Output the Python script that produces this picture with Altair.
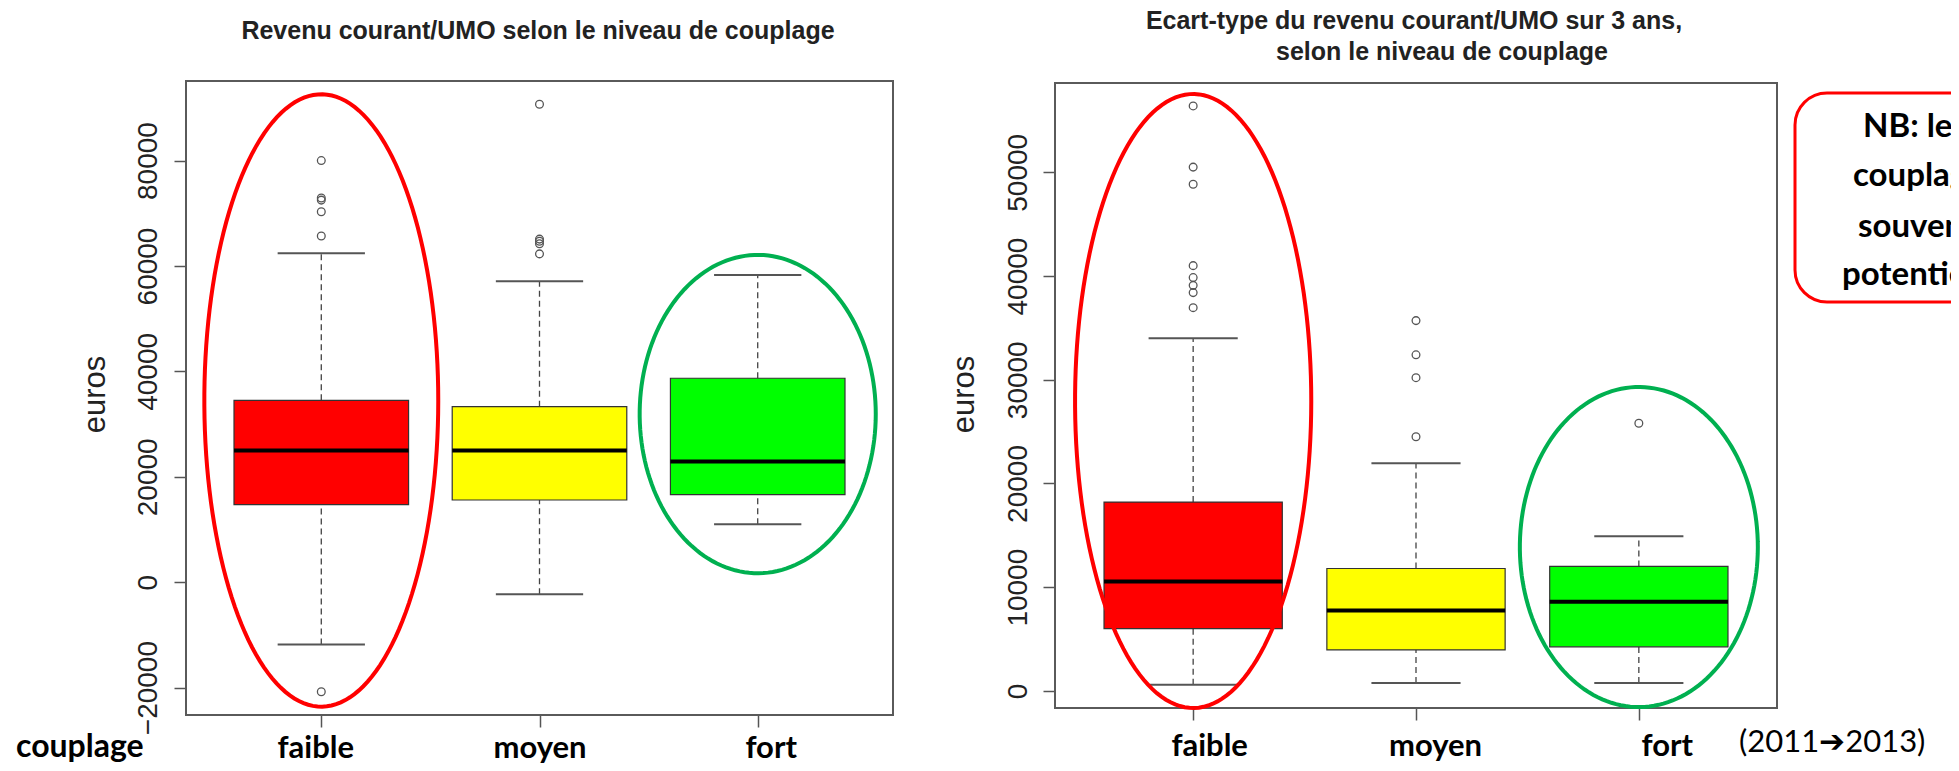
import altair as alt
import pandas as pd

# ---------------- data ----------------
categories = ["faible", "moyen", "fort"]
positions = [1, 2, 3]
box_fill = ["#ff0000", "#ffff00", "#00ff00"]

# Panel 1 : Revenu courant/UMO
rev_q1 = [14700, 15600, 16600]
rev_med = [25000, 25000, 22900]
rev_q3 = [34500, 33300, 38700]
rev_lo = [-11800, -2300, 11000]
rev_hi = [62400, 57100, 58300]
rev_out_faible = [80000, 72900, 72500, 70300, 65700, -20800]
rev_out_moyen = [90700, 65100, 64700, 64200, 62300]
rev_out_fort = []
rev_ticks = [-20000, 0, 20000, 40000, 60000, 80000]
rev_ydomain = [-25200, 95100]

# Panel 2 : Ecart-type du revenu courant/UMO sur 3 ans
sd_q1 = [6000, 3950, 4250]
sd_med = [10550, 7750, 8600]
sd_q3 = [18200, 11800, 12000]
sd_lo = [600, 750, 750]
sd_hi = [34000, 21950, 14900]
sd_out_faible = [56400, 50500, 48850, 41000, 39850, 39100, 38400, 36950]
sd_out_moyen = [35700, 32400, 30200, 24500]
sd_out_fort = [25800]
sd_ticks = [0, 10000, 20000, 30000, 40000, 50000]
sd_ydomain = [-1650, 58610]

x_domain = [0.38, 3.62]

# highlight ellipses (centre / half-axes in data units)
ell_id = ["rouge", "vert"]
ell_color = ["#ff0000", "#00b050"]
ell_cx = [1, 3]
rev_ell_cy = [34480, 31900]
rev_ell_rx = [0.536, 0.541]
rev_ell_ry = [58100, 30200]
sd_ell_cy = [27950, 13870]
sd_ell_rx = [0.53, 0.534]
sd_ell_ry = [29600, 15430]

title_left = "Revenu courant/UMO selon le niveau de couplage"
title_right = ["Ecart-type du revenu courant/UMO sur 3 ans,", "selon le niveau de couplage"]
nb_lines = ["NB: les", "couplage", "souvent", "potentiel"]

AXIS_FONT = "Liberation Sans"
LABEL_FONT = "Lato"


def label_expr():
    parts = " : ".join(
        f"datum.value == {p} ? '{c}'" for p, c in zip(positions[:-1], categories[:-1])
    )
    return f"{parts} : '{categories[-1]}'"


def panel(q1, med, q3, lo, hi, outs, ticks, ydom, xrange, yrange,
          ell_cy, ell_rx, ell_ry, y_offset, x_offset, lab_pad, lab_offsets, ylab_pad):
    xs = alt.Scale(domain=x_domain, range=xrange, nice=False, zero=False)
    ys = alt.Scale(domain=ydom, range=yrange, nice=False, zero=False)
    cond = [
        {"test": f"datum.value == {p}", "value": o}
        for p, o in zip(positions, lab_offsets)
    ]
    xaxis = alt.Axis(
        values=positions, labelExpr=label_expr(), title=None, orient="bottom",
        offset=x_offset, domain=False, grid=False, tickSize=12, tickColor="#555",
        tickWidth=1.5, labelFont=LABEL_FONT, labelFontWeight="bold", labelFontSize=31,
        labelColor="black", labelBaseline="alphabetic", labelPadding=lab_pad,
        labelOffset={"condition": cond, "value": 0},
        labelFlush=False, labelOverlap=False,
    )
    yaxis = alt.Axis(
        values=ticks, format="d", orient="left", offset=y_offset, title="euros",
        titleFont=AXIS_FONT, titleFontSize=31, titleFontWeight="normal",
        titleColor="#222", titleAngle=270, titleX=-91, titleY=313,
        titleAlign="center", titleBaseline="middle", domain=False, grid=False,
        tickSize=12, tickColor="#555", tickWidth=1.5, labelAngle=270,
        labelAlign="center", labelBaseline="bottom", labelFont=AXIS_FONT,
        labelFontSize=28, labelColor="#222", labelPadding=ylab_pad,
        labelOverlap=False, labelFlush=False,
    )

    stats = pd.DataFrame({
        "cat": categories, "pos": positions, "q1": q1, "med": med, "q3": q3,
        "lo": lo, "hi": hi, "fill": box_fill,
    })
    base = alt.Chart(stats).transform_calculate(
        xl="datum.pos - 0.4", xr="datum.pos + 0.4",
        cl="datum.pos - 0.2", cr="datum.pos + 0.2",
    )

    frame = alt.Chart(pd.DataFrame({
        "x": [x_domain[0]], "x2": [x_domain[1]], "y": [ydom[0]], "y2": [ydom[1]],
    })).mark_rect(fill="white", fillOpacity=0, stroke="#5a5a5a", strokeWidth=2).encode(
        x=alt.X("x:Q", scale=xs, axis=xaxis), x2="x2:Q",
        y=alt.Y("y:Q", scale=ys, axis=yaxis), y2="y2:Q",
    )

    whisk_style = dict(color="#444", strokeWidth=1.3, strokeDash=[6, 4])
    whisk_up = base.mark_rule(**whisk_style).encode(
        x=alt.X("pos:Q", scale=xs, axis=xaxis),
        y=alt.Y("q3:Q", scale=ys, axis=yaxis), y2="hi:Q",
    )
    whisk_dn = base.mark_rule(**whisk_style).encode(
        x=alt.X("pos:Q", scale=xs, axis=xaxis),
        y=alt.Y("lo:Q", scale=ys, axis=yaxis), y2="q1:Q",
    )
    cap_hi = base.mark_rule(color="#555", strokeWidth=2).encode(
        x=alt.X("cl:Q", scale=xs, axis=xaxis), x2="cr:Q",
        y=alt.Y("hi:Q", scale=ys, axis=yaxis),
    )
    cap_lo = base.mark_rule(color="#555", strokeWidth=2).encode(
        x=alt.X("cl:Q", scale=xs, axis=xaxis), x2="cr:Q",
        y=alt.Y("lo:Q", scale=ys, axis=yaxis),
    )
    boxes = base.mark_rect(stroke="#333", strokeWidth=1.2).encode(
        x=alt.X("xl:Q", scale=xs, axis=xaxis), x2="xr:Q",
        y=alt.Y("q1:Q", scale=ys, axis=yaxis), y2="q3:Q",
        fill=alt.Fill("fill:N", scale=None),
    )
    medians = base.mark_rule(color="black", strokeWidth=4).encode(
        x=alt.X("xl:Q", scale=xs, axis=xaxis), x2="xr:Q",
        y=alt.Y("med:Q", scale=ys, axis=yaxis),
    )
    out_rows = [(p, v) for p, vals in zip(positions, outs) for v in vals]
    out_df = pd.DataFrame(out_rows, columns=["pos", "val"])
    outliers = alt.Chart(out_df).mark_point(
        shape="circle", filled=False, size=60, color="#555", strokeWidth=1.3, opacity=1
    ).encode(
        x=alt.X("pos:Q", scale=xs, axis=xaxis),
        y=alt.Y("val:Q", scale=ys, axis=yaxis),
    )
    ell_df = pd.DataFrame({
        "id": ell_id, "col": ell_color, "cx": ell_cx, "cy": ell_cy,
        "rx": ell_rx, "ry": ell_ry,
    })
    ellipses = alt.Chart(ell_df).transform_calculate(
        t="sequence(0, 6.36, 0.04)"
    ).transform_flatten(["t"]).transform_calculate(
        ex="datum.cx + datum.rx * cos(datum.t)",
        ey="datum.cy + datum.ry * sin(datum.t)",
    ).mark_line(strokeWidth=4).encode(
        x=alt.X("ex:Q", scale=xs, axis=xaxis),
        y=alt.Y("ey:Q", scale=ys, axis=yaxis),
        color=alt.Color("col:N", scale=None),
        detail="id:N",
        order="t:Q",
    )
    return alt.layer(frame, whisk_up, whisk_dn, cap_hi, cap_lo, boxes, medians,
                     outliers, ellipses)


p1 = panel(rev_q1, rev_med, rev_q3, rev_lo, rev_hi,
           [rev_out_faible, rev_out_moyen, rev_out_fort], rev_ticks, rev_ydomain,
           [0, 707], [634, 0], rev_ell_cy, rev_ell_rx, rev_ell_ry,
           y_offset=0, x_offset=0, lab_pad=30, lab_offsets=[-6, 0, 13], ylab_pad=12)
p2 = panel(sd_q1, sd_med, sd_q3, sd_lo, sd_hi,
           [sd_out_faible, sd_out_moyen, sd_out_fort], sd_ticks, sd_ydomain,
           [869, 1591], [627, 2], sd_ell_cy, sd_ell_rx, sd_ell_ry,
           y_offset=-869, x_offset=-7, lab_pad=35, lab_offsets=[16, 19, 28], ylab_pad=11)


def text_layer(txt, x, y, font, size, weight="normal", align="center", color="black"):
    return alt.Chart(pd.DataFrame({"t": [txt]})).mark_text(
        font=font, fontSize=size, fontWeight=weight, align=align,
        baseline="alphabetic", color=color,
    ).encode(text="t:N", x=alt.value(x), y=alt.value(y))


titles = [
    text_layer(title_left, 352, -42, AXIS_FONT, 25, "bold", color="#222"),
    text_layer(title_right[0], 1228, -52, AXIS_FONT, 25, "bold", color="#222"),
    text_layer(title_right[1], 1256, -21, AXIS_FONT, 25, "bold", color="#222"),
    text_layer("couplage", -170, 676, LABEL_FONT, 32, "bold", align="left"),
    text_layer("(2011\u27942013)", 1553, 671, LABEL_FONT, 31, "normal", align="left"),
]

nb_box = alt.Chart(pd.DataFrame({"k": [0]})).mark_rect(
    fill="white", stroke="#ff0000", strokeWidth=3, cornerRadius=32
).encode(x=alt.value(1609), x2=alt.value(1820), y=alt.value(12), y2=alt.value(221))

nb_x = [1677, 1667, 1672, 1656]
nb_y = [56, 105, 156, 204]
nb_texts = [
    text_layer(t, x, y, LABEL_FONT, 33, "bold", align="left")
    for t, x, y in zip(nb_lines, nb_x, nb_y)
]

chart = alt.layer(p1, p2, nb_box, *nb_texts, *titles).resolve_scale(
    x="independent", y="independent"
).properties(
    width=1591, height=634,
    autosize=alt.AutoSizeParams(type="none"),
    padding={"left": 178, "top": 73, "right": 174, "bottom": 48},
    background="white",
).configure_view(stroke=None)

chart.save("out.html", embed_options={"renderer": "svg", "actions": False})
